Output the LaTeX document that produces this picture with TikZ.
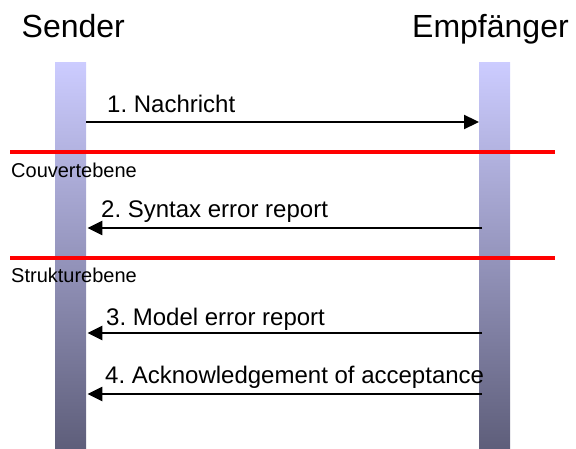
\documentclass[tikz,border=0pt]{standalone}
\usepackage{fontspec}
\setmainfont{Liberation Sans}
\usetikzlibrary{arrows.meta,positioning,calc}
\frenchspacing

\definecolor{bartop}{RGB}{204,204,255}
\definecolor{barbottom}{RGB}{94,94,122}
\definecolor{planered}{RGB}{255,0,0}

\tikzset{
	lifeline/.style={rectangle,inner sep=0pt,minimum width=31pt,minimum height=387pt,
		top color=bartop,bottom color=barbottom,draw=none},
	actor/.style={inner sep=0pt,anchor=base west,font=\fontsize{32}{36}\selectfont},
	msg/.style={inner sep=0pt,anchor=base west,font=\fontsize{24}{28}\selectfont},
	plane/.style={inner sep=0pt,anchor=base west,font=\fontsize{20}{24}\selectfont},
	call/.style={line width=2.3pt,-{Triangle[length=15pt,width=14pt]}},
	border/.style={line width=4pt,planered},
}

\begin{document}
\begin{tikzpicture}[x=1pt,y=-1pt]
		\useasboundingbox (0,0) rectangle (576,449);
		% lifelines
		\node[lifeline,anchor=north west] (sbar) at (55,62) {};
		\node[lifeline,anchor=north west] (ebar) at (479,62) {};
		\node[actor] (sender) at (21.5,38) {Sender};
		\node[actor] (empf) at (412,38) {Empfänger};
		%
		% layer borders
		\coordinate (b1l) at (10,152.5);
		\coordinate (b1r) at (555,152.5);
		\coordinate (b2l) at (10,258);
		\coordinate (b2r) at (555,258);
		\draw[border] (b1l) -- (b1r);
		\draw[border] (b2l) -- (b2r);
		\node[plane] (couv) at (11,178) {Couvertebene};
		\node[plane] (strukt) at (11,283) {Strukturebene};
		%
		% messages
		\coordinate (m1) at (0,122);
		\coordinate (m2) at (0,228);
		\coordinate (m3) at (0,333);
		\coordinate (m4) at (0,394);
		\draw[call] (sbar.east |- m1) -- (ebar.west |- m1);
		\draw[call] ($(ebar.west |- m2)+(3,0)$) -- ($(sbar.east |- m2)+(1,0)$);
		\draw[call] ($(ebar.west |- m3)+(3,0)$) -- ($(sbar.east |- m3)+(1,0)$);
		\draw[call] ($(ebar.west |- m4)+(3,0)$) -- ($(sbar.east |- m4)+(1,0)$);
		\node[msg] (t1) at (107,113) {1. Nachricht};
		\node[msg] (t2) at (101,218) {2. Syntax error report};
		\node[msg] (t3) at (106,325) {3. Model error report};
		\node[msg] (t4) at (105,383) {4. Acknowledgement of acceptance};
\end{tikzpicture}
\end{document}
